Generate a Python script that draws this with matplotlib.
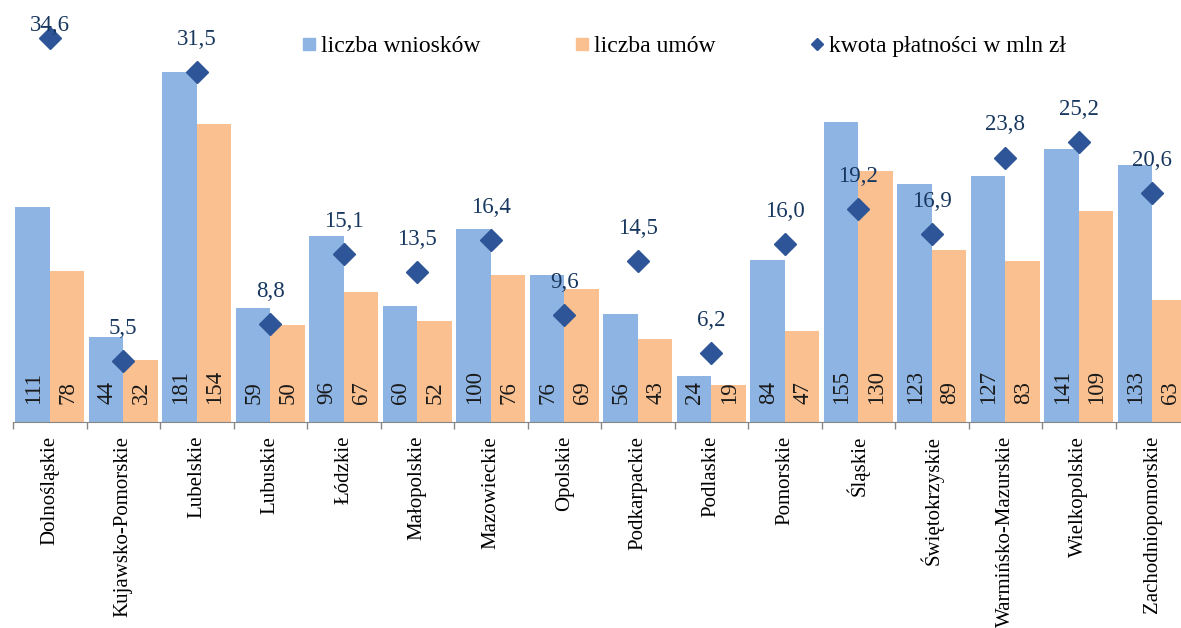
import numpy as np
import matplotlib.pyplot as plt
from matplotlib.lines import Line2D

plt.rcParams["font.family"] = ["Liberation Serif", "DejaVu Serif"]

wojewodztwa = ["Dolnośląskie", "Kujawsko-Pomorskie", "Lubelskie", "Lubuskie",
               "Łódzkie", "Małopolskie", "Mazowieckie", "Opolskie",
               "Podkarpackie", "Podlaskie", "Pomorskie", "Śląskie",
               "Świętokrzyskie", "Warmińsko-Mazurskie", "Wielkopolskie",
               "Zachodniopomorskie"]
wnioski = [111, 44, 181, 59, 96, 60, 100, 76, 56, 24, 84, 155, 123, 127, 141, 133]
umowy = [78, 32, 154, 50, 67, 52, 76, 69, 43, 19, 47, 130, 89, 83, 109, 63]
kwota = [34.6, 5.5, 31.5, 8.8, 15.1, 13.5, 16.4, 9.6, 14.5, 6.2, 16.0, 19.2,
         16.9, 23.8, 25.2, 20.6]

c_wn = "#8EB4E3"
c_um = "#FAC090"
c_kw = "#2E5597"
c_lab = "#17375E"

fig = plt.figure(figsize=(11.81, 6.28), dpi=100)
ax = fig.add_axes([13 / 1181, 206 / 628, 1176 / 1181, 422 / 628])
ax2 = ax.twinx()

x = np.arange(len(wojewodztwa))
w = 0.47
ax.bar(x - w / 2, wnioski, w, color=c_wn, zorder=2)
ax.bar(x + w / 2, umowy, w, color=c_um, zorder=2)

# liczby wniosków i umów wpisane pionowo u podstawy słupków
for xi, a, b in zip(x, wnioski, umowy):
    for xx, v in ((xi - w / 2, a), (xi + w / 2, b)):
        ax.annotate(str(v), (xx, 0), xytext=(0.5, 13), textcoords="offset points",
                    rotation=90, ha="center", va="bottom", fontsize=16.5,
                    color="#1a1a1a")

ax.set_xlim(-0.5, len(x) - 0.5)
ax.set_ylim(0, 218.2)
ax.set_yticks([])
for s in ("left", "right", "top"):
    ax.spines[s].set_visible(False)
    ax2.spines[s].set_visible(False)
ax.spines["bottom"].set_color("#868686")
ax2.spines["bottom"].set_visible(False)

ax.set_xticks(x)
ax.set_xticklabels(wojewodztwa, rotation=90, fontsize=15, va="top")
ax.tick_params(axis="x", which="major", length=0, pad=10)
ax.set_xticks(np.arange(-0.5, len(x)), minor=True)
ax.tick_params(axis="x", which="minor", length=5, width=1, color="#868686")

ax2.plot(x, kwota, ls="none", marker="D", ms=11.5, color=c_kw, zorder=3)
ax2.set_ylim(0, 38.0)
ax2.set_yticks([])
for xi, v in zip(x, kwota):
    ly = min(v + 2.95, 35.7)
    ax2.text(xi, ly, f"{v:.1f}".replace(".", ","), ha="center", va="center",
             fontsize=16.5, color=c_lab)

handles = [
    Line2D([], [], ls="none", marker="s", ms=9, color=c_wn),
    Line2D([], [], ls="none", marker="s", ms=9, color=c_um),
    Line2D([], [], ls="none", marker="D", ms=6, color=c_kw),
]
fig.legend(handles, ["liczba wniosków", "liczba umów", "kwota płatności w mln zł"],
           loc="center left", bbox_to_anchor=(300 / 1181, 1 - 46 / 628),
           ncol=3, frameon=False, fontsize=17, handlelength=0.8,
           handletextpad=0.1, columnspacing=3.9, borderpad=0, borderaxespad=0)

fig.savefig("out.png", dpi=100)
